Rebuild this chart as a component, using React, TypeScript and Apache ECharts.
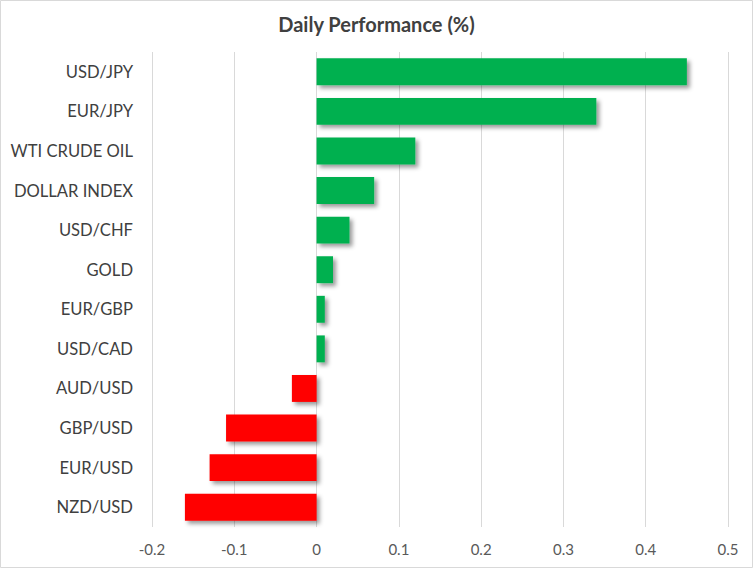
import React, { useEffect, useRef } from "react";
import * as echarts from "echarts";

const categories = [
  "USD/JPY",
  "EUR/JPY",
  "WTI CRUDE OIL",
  "DOLLAR INDEX",
  "USD/CHF",
  "GOLD",
  "EUR/GBP",
  "USD/CAD",
  "AUD/USD",
  "GBP/USD",
  "EUR/USD",
  "NZD/USD",
];
const values = [0.45, 0.34, 0.12, 0.07, 0.04, 0.02, 0.01, 0.01, -0.03, -0.11, -0.13, -0.16];
const title = "Daily Performance (%)";
const positiveColor = "#00B050";
const negativeColor = "#FF0000";

export default function App() {
  const ref = useRef<HTMLDivElement>(null);
  useEffect(() => {
    if (!ref.current) return;
    const chart = echarts.init(ref.current, null, { renderer: "svg" });
    chart.setOption({
      animation: false,
      backgroundColor: "#ffffff",
      title: {
        text: title,
        left: "center",
        top: 9,
        textStyle: {
          fontFamily: "Lato",
          fontWeight: "bold",
          fontSize: 20,
          color: "#404040",
        },
      },
      graphic: [
        {
          type: "rect",
          shape: { x: 0.5, y: 0.5, width: 752, height: 567 },
          style: { fill: "none", stroke: "#d9d9d9", lineWidth: 1 },
          silent: true,
        },
      ],
      grid: { left: 152, right: 25, top: 52, bottom: 41, containLabel: false },
      xAxis: {
        type: "value",
        min: -0.2,
        max: 0.5,
        interval: 0.1,
        axisLine: { show: false },
        axisTick: { show: false },
        splitLine: { show: true, lineStyle: { color: "#d9d9d9", width: 1 } },
        axisLabel: {
          fontFamily: "Lato",
          fontSize: 15,
          color: "#595959",
          margin: 14,
          formatter: (v: number) => String(Math.round(v * 10) / 10),
        },
      },
      yAxis: {
        type: "category",
        data: categories,
        inverse: true,
        axisLine: { show: false, onZero: false },
        axisTick: { show: false },
        splitLine: { show: false },
        axisLabel: {
          fontFamily: "Lato",
          fontSize: 16.6,
          color: "#404040",
          margin: 19,
        },
      },
      series: [
        {
          type: "bar",
          data: values.map((v) => ({
            value: v,
            itemStyle: { color: v >= 0 ? positiveColor : negativeColor },
          })),
          barCategoryGap: "32%",
          itemStyle: {
            shadowBlur: 4,
            shadowOffsetX: 3,
            shadowOffsetY: 3,
            shadowColor: "rgba(0,0,0,0.4)",
          },
        },
      ],
    });
    return () => chart.dispose();
  }, []);
  return (
    <div
      ref={ref}
      style={{ position: "fixed", left: 0, top: 0, width: 753, height: 568 }}
    />
  );
}
